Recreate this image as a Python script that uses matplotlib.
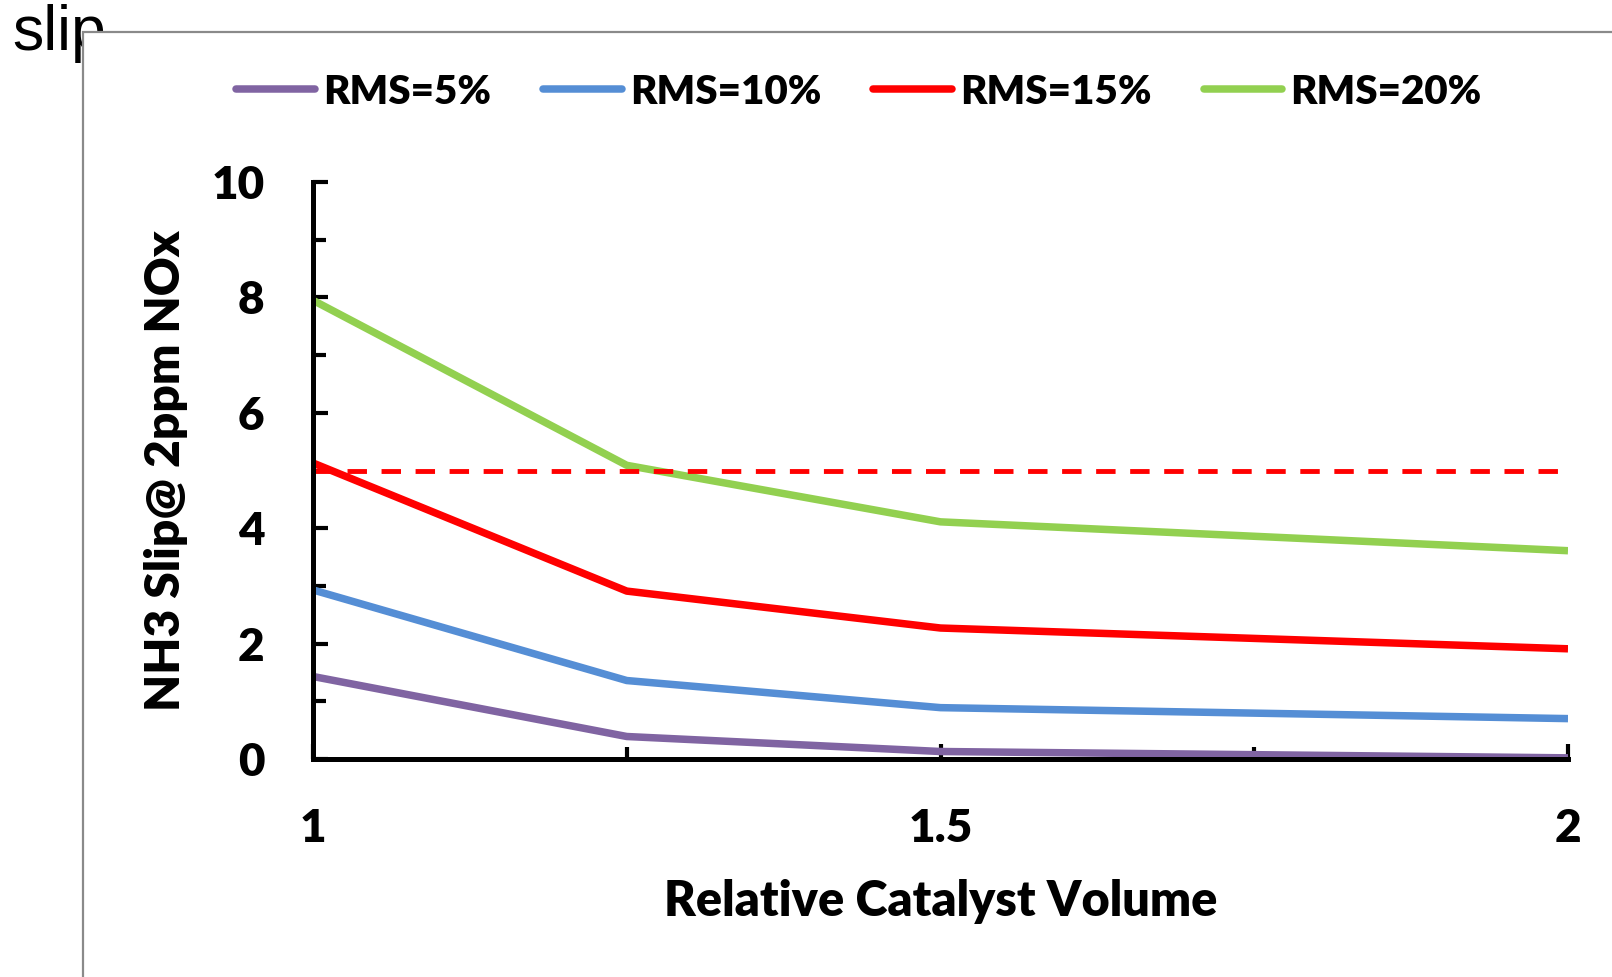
import matplotlib
matplotlib.use('Agg')
import matplotlib.pyplot as plt
from matplotlib.patches import Rectangle
from matplotlib.ticker import MultipleLocator

# data
volume = [1.0, 1.25, 1.5, 2.0]
rms_5 = [1.43, 0.39, 0.13, 0.02]
rms_10 = [2.93, 1.36, 0.89, 0.70]
rms_15 = [5.13, 2.91, 2.27, 1.91]
rms_20 = [7.95, 5.09, 4.11, 3.61]
limit = 5.0

series = [
    ('RMS=5%', rms_5, '#8064A2'),
    ('RMS=10%', rms_10, '#558ED5'),
    ('RMS=15%', rms_15, '#FF0000'),
    ('RMS=20%', rms_20, '#92D050'),
]

fam = ['Lato', 'DejaVu Sans']
wt = 'heavy'

fig = plt.figure(figsize=(16.12, 9.77), dpi=100)
fig.patch.set_facecolor('white')

# stray text behind the chart frame
fig.text(12 / 1612, 1 - 50 / 977, 'slip', fontsize=45, family='Liberation Sans',
         ha='left', va='baseline', zorder=0)
frame = Rectangle((83 / 1612, -0.1), 1.2, 1 - 32 / 977 + 0.1, transform=fig.transFigure,
                  facecolor='white', edgecolor='#8a8a8a', linewidth=1.6, zorder=1)
fig.patches.append(frame)

ax = fig.add_axes([313 / 1612, 1 - 759 / 977, (1568 - 313) / 1612, (759 - 182) / 977])
ax.set_zorder(2)
ax.patch.set_alpha(0)

for label, vals, color in series:
    ax.plot(volume, vals, color=color, lw=5.4, label=label, solid_capstyle='butt')
ax.plot([volume[0], volume[-1]], [limit, limit], color='#FF0000', lw=3.5,
        linestyle=(0, (4, 3)))

ax.set_xlim(1, 2)
ax.set_ylim(0, 10)
ax.xaxis.set_minor_locator(MultipleLocator(0.25))
ax.yaxis.set_major_locator(MultipleLocator(2))
ax.yaxis.set_minor_locator(MultipleLocator(1))
ax.set_xticks([1, 1.5, 2])
ax.set_xticklabels(['1', '1.5', '2'])

for side in ['top', 'right']:
    ax.spines[side].set_visible(False)
for side in ['left', 'bottom']:
    ax.spines[side].set_linewidth(3.6)

ax.tick_params(which='major', direction='in', length=11, width=3, pad=35)
ax.tick_params(which='minor', direction='in', length=9, width=3)
for lab in ax.get_xticklabels() + ax.get_yticklabels():
    lab.set_fontsize(33)
    lab.set_fontweight(wt)
    lab.set_family(fam)

ax.set_xlabel('Relative Catalyst Volume', fontsize=35, labelpad=22, family=fam, weight=wt)
ax.set_ylabel('NH3 Slip@ 2ppm NOx', fontsize=34.5, labelpad=17, family=fam, weight=wt)

leg = fig.legend(*ax.get_legend_handles_labels(), loc='center', ncol=4,
                 bbox_to_anchor=(859 / 1612, 1 - 92 / 977), frameon=False,
                 handlelength=1.95, handletextpad=0.2, columnspacing=1.3,
                 prop=dict(family=fam, weight=wt, size=29))
for h in leg.legend_handles:
    h.set_solid_capstyle('round')

fig.savefig('out.png', dpi=100)
